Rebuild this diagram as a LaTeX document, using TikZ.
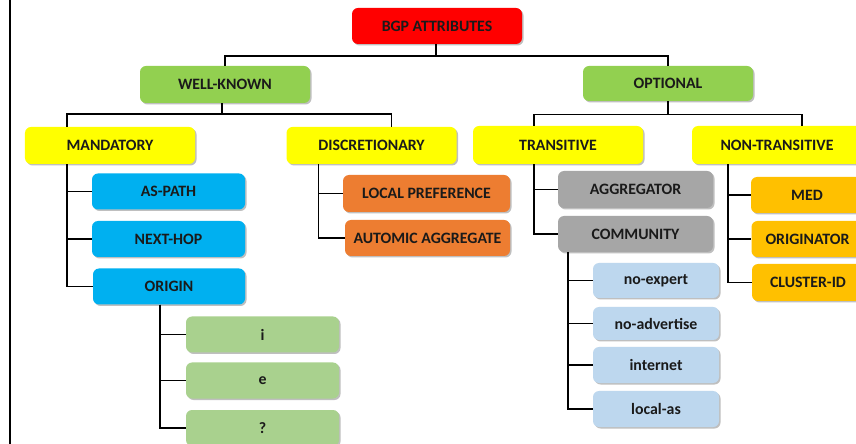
\documentclass[tikz,border=0pt]{standalone}
\usepackage{fontspec}
\setmainfont{Carlito}
\usetikzlibrary{shadows,calc}
\definecolor{cred}{HTML}{FF0000}
\definecolor{cgreen}{HTML}{92D050}
\definecolor{cyellow}{HTML}{FFFF00}
\definecolor{cblue}{HTML}{00B0F0}
\definecolor{corange}{HTML}{ED7D31}
\definecolor{cgray}{HTML}{A6A6A6}
\definecolor{clgreen}{HTML}{A9D18E}
\definecolor{clblue}{HTML}{BDD7EE}
\definecolor{cgold}{HTML}{FFC000}
\definecolor{ctext}{HTML}{1A1A1A}
\tikzset{
  box/.style={rectangle, rounded corners=6bp, inner sep=0pt, text=ctext,
    font=\bfseries\fontsize{15.9}{18}\selectfont,
    drop shadow={shadow xshift=1.5bp, shadow yshift=-1.5bp, opacity=0.25, fill=black}},
  top/.style={box, minimum width=170bp, minimum height=36bp},
  leaf/.style={box, minimum width=153bp, minimum height=36bp},
  conn/.style={draw=black, line width=1.6bp}
}
\begin{document}
\begin{tikzpicture}[x=1bp, y=-1bp]
\useasboundingbox (0,0) rectangle (856,444);
\fill[white] (0,0) rectangle (856,444);
\draw[line width=2bp] (10,0) -- (10,444);

% level 0-2
\node[top, fill=cred] (bgp) at (437,26) {BGP ATTRIBUTES};
\node[top, fill=cgreen, minimum height=37bp] (wk) at (225,84.5) {WELL-KNOWN};
\node[top, fill=cgreen, minimum height=35bp] (opt) at (668,83.5) {OPTIONAL};
\node[top, fill=cyellow, minimum height=37bp] (mand) at (110,145.5) {MANDATORY};
\node[top, fill=cyellow, minimum height=37bp] (disc) at (371.5,145.5) {DISCRETIONARY};
\node[top, fill=cyellow, minimum height=38bp] (trans) at (558,145) {TRANSITIVE};
\node[top, fill=cyellow, minimum height=38bp] (ntrans) at (777,145) {NON-TRANSITIVE};

% mandatory children
\node[leaf, fill=cblue] (aspath) at (168.5,191.5) {AS-PATH};
\node[leaf, fill=cblue] (nexthop) at (168.5,239) {NEXT-HOP};
\node[leaf, fill=cblue, minimum width=152bp] (origin) at (169,286.5) {ORIGIN};
% origin children
\node[leaf, fill=clgreen] (oi) at (262.5,334.5) {i};
\node[leaf, fill=clgreen] (oe) at (262.5,380.5) {e};
\node[leaf, fill=clgreen] (oq) at (262.5,428) {?};
% discretionary children
\node[leaf, fill=corange, minimum width=167bp, minimum height=37bp] (lp) at (426.5,193.5) {LOCAL PREFERENCE};
\node[leaf, fill=corange, minimum width=165bp] (aa) at (427.5,238) {AUTOMIC AGGREGATE};
% transitive children
\node[leaf, fill=cgray, minimum width=155bp, minimum height=37bp] (agg) at (635.5,189.5) {AGGREGATOR};
\node[leaf, fill=cgray, minimum width=155bp] (comm) at (635.5,234) {COMMUNITY};
% community children
\node[leaf, fill=clblue, minimum width=126bp, minimum height=35bp] (noexp) at (656,280.5) {no-expert};
\node[leaf, fill=clblue, minimum width=126bp, minimum height=33bp] (noadv) at (656,323.5) {no-advertise};
\node[leaf, fill=clblue, minimum width=126bp] (inet) at (656,365) {internet};
\node[leaf, fill=clblue, minimum width=126bp] (las) at (656,409) {local-as};
% non-transitive children
\node[leaf, fill=cgold, minimum width=112bp] (med) at (807,195) {MED};
\node[leaf, fill=cgold, minimum width=112bp] (orig) at (807.5,239) {ORIGINATOR};
\node[leaf, fill=cgold, minimum width=112bp, minimum height=37bp] (cid) at (808,282.5) {CLUSTER-ID};

% bus connectors
\coordinate (b0) at ($(bgp.south)+(-1,12)$);
\draw[conn] (bgp.south -| b0) -- (b0) -| (wk.north);
\draw[conn] (b0) -| (opt.north);
\coordinate (b1) at ($(wk.south)+(-3,11)$);
\draw[conn] (wk.south -| b1) -- (b1) -| ([xshift=-43bp]mand.north);
\draw[conn] (b1) -| ([xshift=20bp]disc.north);
\coordinate (b2) at ($(opt.south)+(0,13.5)$);
\draw[conn] (opt.south) -- (b2) -| ([xshift=-24bp]trans.north);
\draw[conn] (b2) -| ([xshift=25bp]ntrans.north);

% side connectors
\foreach \c in {aspath,nexthop,origin}
  \draw[conn] ([xshift=42bp]mand.south west) |- (\c.west);
\foreach \c in {oi,oe,oq}
  \draw[conn] ([xshift=-9bp]origin.south) |- (\c.west);
\foreach \c in {lp,aa}
  \draw[conn] ([xshift=32bp]disc.south west) |- (\c.west);
\foreach \c in {agg,comm}
  \draw[conn] ([xshift=61bp]trans.south west) |- (\c.west);
\foreach \c in {noexp,noadv,inet,las}
  \draw[conn] ([xshift=10bp]comm.south west) |- (\c.west);
\foreach \c in {med,orig,cid}
  \draw[conn] ([xshift=36bp]ntrans.south west) |- (\c.west);
\end{tikzpicture}
\end{document}
